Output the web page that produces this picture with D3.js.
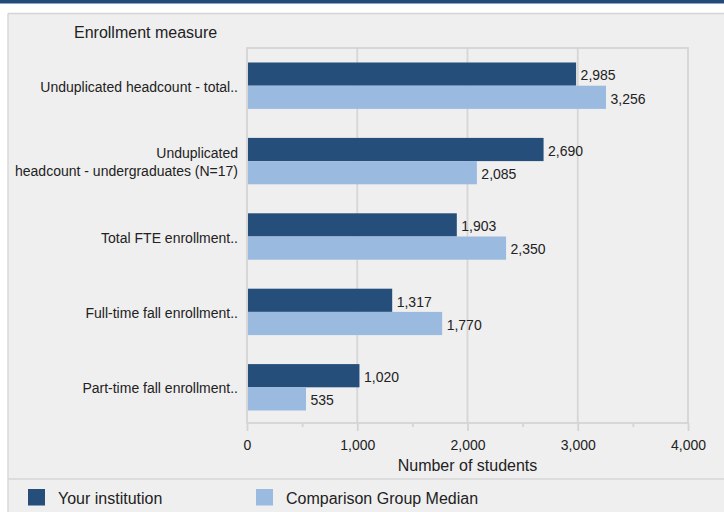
<!DOCTYPE html>
<html>
<head>
<meta charset="utf-8">
<script src="https://cdn.jsdelivr.net/npm/d3@7/dist/d3.min.js"></script>
<style>
  html, body { margin: 0; padding: 0; background: #ffffff; }
  svg { display: block; font-family: "Liberation Sans", Arial, sans-serif; }
</style>
</head>
<body>
<svg id="chart" width="724" height="512"></svg>
<script>
// ---- data ----
const categories = [
  ["Unduplicated headcount - total.."],
  ["Unduplicated", "headcount - undergraduates (N=17)"],
  ["Total FTE enrollment.."],
  ["Full-time fall enrollment.."],
  ["Part-time fall enrollment.."]
];
const seriesNames = ["Your institution", "Comparison Group Median"];
const yourInstitution = [2985, 2690, 1903, 1317, 1020];
const comparisonMedian = [3256, 2085, 2350, 1770, 535];
const xTicks = [0, 1000, 2000, 3000, 4000];
const xMinorTicks = [500, 1500, 2500, 3500];
const colors = ["#254e7b", "#9bbadf"];

const svg = d3.select("#chart");
const W = 724, H = 512;
const plot = { left: 247, right: 688, top: 48, bottom: 423 };

// top band + panel
svg.append("rect").attr("x", 0).attr("y", 0).attr("width", W).attr("height", 3.5).attr("fill", "#234a78");
svg.append("rect").attr("x", 8).attr("y", 13.5).attr("width", W - 8).attr("height", H - 13.5)
  .attr("fill", "#efefef");
svg.append("line").attr("x1", 8).attr("x2", W).attr("y1", 13.5).attr("y2", 13.5)
  .attr("stroke", "#d4d4d4").attr("stroke-width", 1.5);
svg.append("line").attr("x1", 8).attr("x2", 8).attr("y1", 13.5).attr("y2", H)
  .attr("stroke", "#d8d8d8").attr("stroke-width", 1.5);
svg.append("line").attr("x1", 8).attr("x2", W).attr("y1", 479).attr("y2", 479)
  .attr("stroke", "#d6d6d6").attr("stroke-width", 1.5);

// scales
const x = d3.scaleLinear().domain([0, 4000]).range([plot.left, plot.right]);
const y = d3.scaleBand().domain(d3.range(categories.length)).range([plot.top, plot.bottom + 2]).padding(0);
const barH = 23.2;
const ySub = d3.scaleBand().domain([0, 1]).range([-barH, barH]);

// gridlines
svg.append("g").selectAll("line").data(xTicks.slice(1, -1)).join("line")
  .attr("x1", d => x(d)).attr("x2", d => x(d))
  .attr("y1", plot.top).attr("y2", plot.bottom)
  .attr("stroke", "#d6d6d6").attr("stroke-width", 1.8);

// plot border
svg.append("rect").attr("x", plot.left).attr("y", plot.top)
  .attr("width", plot.right - plot.left).attr("height", plot.bottom - plot.top)
  .attr("fill", "none").attr("stroke", "#d4d4d4").attr("stroke-width", 1.8);

// x axis
const xAxis = d3.axisBottom(x).tickValues(xTicks).tickSize(8).tickPadding(9)
  .tickFormat(d3.format(","));
const gx = svg.append("g").attr("transform", `translate(0,${plot.bottom})`).call(xAxis);
gx.select(".domain").remove();
gx.selectAll(".tick line").attr("stroke", "#d4d4d4").attr("stroke-width", 1.8);
gx.selectAll(".tick text").attr("font-size", 14).attr("fill", "#222")
  .attr("font-family", "Liberation Sans, Arial, sans-serif");
const gxm = svg.append("g").attr("transform", `translate(0,${plot.bottom})`)
  .call(d3.axisBottom(x).tickValues(xMinorTicks).tickSize(4).tickFormat(""));
gxm.select(".domain").remove();
gxm.selectAll(".tick line").attr("stroke", "#d4d4d4").attr("stroke-width", 1.8);

// bars
const series = [yourInstitution, comparisonMedian];
series.forEach((vals, s) => {
  svg.append("g").selectAll("rect").data(vals).join("rect")
    .attr("x", x(0) + 1)
    .attr("y", (d, i) => y(i) + y.bandwidth() / 2 + ySub(s))
    .attr("width", d => x(d) - x(0) - 1)
    .attr("height", ySub.bandwidth())
    .attr("fill", colors[s]);
  svg.append("g").selectAll("text").data(vals).join("text")
    .attr("x", d => x(d) + 4.5)
    .attr("y", (d, i) => y(i) + y.bandwidth() / 2 + ySub(s) + ySub.bandwidth() / 2)
    .attr("dy", "0.45em")
    .attr("font-size", 14).attr("fill", "#222")
    .text(d => d3.format(",")(d));
});

// category labels
const cat = svg.append("g").selectAll("text").data(categories).join("text")
  .attr("text-anchor", "end").attr("font-size", 14).attr("fill", "#222")
  .attr("x", 238)
  .attr("y", (d, i) => y(i) + y.bandwidth() / 2);
cat.each(function(lines) {
  const t = d3.select(this);
  const offs = lines.length === 1 ? [6] : [-3, 14.5];
  lines.forEach((l, k) => {
    t.append("tspan").attr("x", 238).attr("dy", k === 0 ? offs[0] : offs[1] - offs[0]).text(l);
  });
});

// titles
svg.append("text").attr("x", 74).attr("y", 38).attr("font-size", 16).attr("fill", "#222")
  .text("Enrollment measure");
svg.append("text").attr("x", (plot.left + plot.right) / 2).attr("y", 471)
  .attr("text-anchor", "middle").attr("font-size", 16).attr("fill", "#222")
  .text("Number of students");

// legend
const legendX = [28, 256];
const lg = svg.append("g").selectAll("g").data(seriesNames).join("g")
  .attr("transform", (d, i) => `translate(${legendX[i]},489)`);
lg.append("rect").attr("width", 17).attr("height", 16.5).attr("fill", (d, i) => colors[i]);
lg.append("text").attr("x", 30).attr("y", 15).attr("font-size", 16).attr("fill", "#222")
  .text(d => d);
</script>
</body>
</html>
